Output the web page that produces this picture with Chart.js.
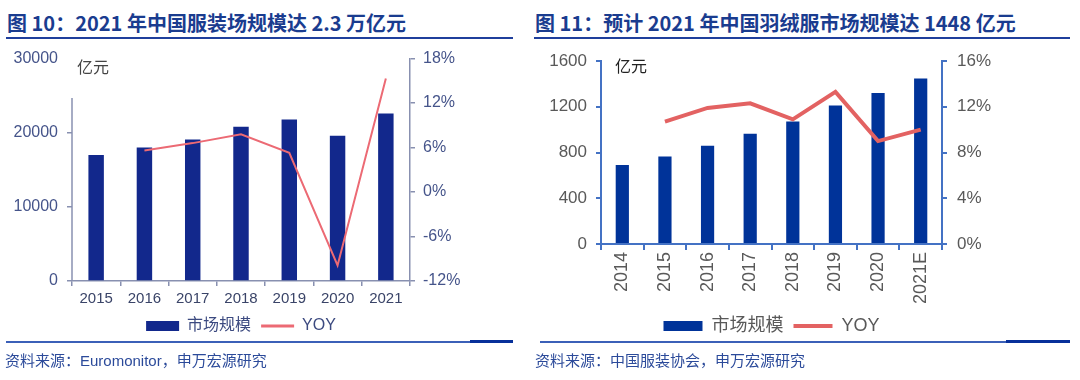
<!DOCTYPE html>
<html>
<head>
<meta charset="utf-8">
<script src="https://cdn.jsdelivr.net/npm/chart.js@4/dist/chart.umd.min.js"></script>
<style>
body { margin: 0; width: 1080px; height: 380px; background: #fff; position: relative; overflow: hidden; font-family: 'Noto Sans CJK SC', sans-serif; }
.title { position: absolute; top: 9px; font-size: 20px; font-weight: 700; color: #1a3c8f; line-height: 28px; white-space: nowrap; }
.uline { position: absolute; top: 37px; height: 2px; background: #1f3f9c; }
.bline { position: absolute; top: 341px; height: 2px; background: #3b60b8; }
.bdark { position: absolute; top: 340px; height: 3px; background: #07309a; }
.src { position: absolute; top: 349px; font-size: 15px; line-height: 22px; color: #2b4a9a; white-space: nowrap; }
.unit { position: absolute; font-size: 16px; line-height: 20px; white-space: nowrap; }
canvas { position: absolute; }
</style>
</head>
<body>
<div class="title" style="left:7px">图 10：2021 年中国服装场规模达 2.3 万亿元</div>
<div class="uline" style="left:6px;width:507px"></div>
<div class="title" style="left:535px">图 11：预计 2021 年中国羽绒服市场规模达 1448 亿元</div>
<div class="uline" style="left:534px;width:536px"></div>

<canvas id="leftChart" width="540" height="310" style="left:0;top:40px"></canvas>
<canvas id="rightChart" width="540" height="310" style="left:540px;top:40px"></canvas>
<div class="unit" style="left:77px;top:56px;color:#444">亿元</div>
<div class="unit" style="left:615px;top:55px;color:#222">亿元</div>

<div class="bline" style="left:6px;width:507px"></div>
<div class="bdark" style="left:470px;width:43px"></div>
<div class="bline" style="left:540px;width:530px"></div>
<div class="bdark" style="left:1006px;width:64px"></div>
<div class="src" style="left:5px"><span style="font-family:'Liberation Sans','Noto Sans CJK SC',sans-serif">资料来源：Euromonitor，申万宏源研究</span></div>
<div class="src" style="left:535px">资料来源：中国服装协会，申万宏源研究</div>

<script>
// 图10 中国服装市场规模
const clothYears = ['2015', '2016', '2017', '2018', '2019', '2020', '2021'];
const clothSize = [17000, 18000, 19100, 20800, 21800, 19600, 22600];
const clothYoy = [null, 5.6, 6.6, 7.8, 5.3, -9.9, 15.3];
const clothSizeTicks = [0, 10000, 20000, 30000];
const clothYoyTicks = [-12, -6, 0, 6, 12, 18];

// 图11 中国羽绒服市场规模
const downYears = ['2014', '2015', '2016', '2017', '2018', '2019', '2020', '2021E'];
const downSize = [690, 765, 860, 965, 1070, 1210, 1320, 1448];
const downYoy = [null, 10.7, 11.9, 12.3, 10.9, 13.3, 9.0, 10.0];
const downSizeTicks = [0, 400, 800, 1200, 1600];
const downYoyTicks = [0, 4, 8, 12, 16];

const FONT = "'Liberation Sans', 'Noto Sans CJK SC', sans-serif";

function setTicks(list) {
  return function (scale) {
    scale.ticks = list.map(v => ({ value: v }));
  };
}
function fixWidth(w) {
  return function (scale) { scale.width = w; };
}
function fixHeight(h) {
  return function (scale) { scale.height = h; };
}
function legendLabels(chart) {
  return chart.data.datasets.map((ds, i) => ({
    text: ds.label,
    datasetIndex: i,
    fillStyle: ds.type === 'line' ? ds.borderColor : ds.backgroundColor,
    strokeStyle: ds.type === 'line' ? ds.borderColor : ds.backgroundColor,
    lineWidth: ds.type === 'line' ? ds.legendLine : 0,
    pointStyle: ds.type === 'line' ? 'line' : 'rect',
    fontColor: chart.options.plugins.legend.labels.color,
    hidden: false
  }));
}

// left axis line of chart 10 only starts part way up
const clothAxisStart = 24700;
const partialAxis = {
  id: 'partialAxis',
  afterDraw(chart) {
    const s = chart.scales.y;
    const ctx = chart.ctx;
    ctx.save();
    ctx.strokeStyle = '#8890b0';
    ctx.lineWidth = 1.5;
    ctx.beginPath();
    ctx.moveTo(s.right, s.getPixelForValue(clothAxisStart));
    ctx.lineTo(s.right, s.bottom);
    ctx.stroke();
    ctx.restore();
  }
};

const clothText = '#45548a';
const clothAxis = '#8890b0';

new Chart(document.getElementById('leftChart').getContext('2d'), {
  type: 'bar',
  data: {
    labels: clothYears,
    datasets: [
      {
        type: 'bar',
        label: '市场规模',
        data: clothSize,
        backgroundColor: '#12288c',
        borderWidth: 0,
        barPercentage: 0.32,
        categoryPercentage: 1,
        yAxisID: 'y',
        order: 1
      },
      {
        type: 'line',
        label: 'YOY',
        data: clothYoy,
        borderColor: '#ec6a74',
        backgroundColor: '#ec6a74',
        borderWidth: 2,
        legendLine: 3,
        pointRadius: 0,
        tension: 0,
        yAxisID: 'y1',
        order: 0
      }
    ]
  },
  options: {
    responsive: false,
    animation: false,
    layout: { padding: { left: 0, right: 0, top: 16, bottom: 6 } },
    plugins: {
      tooltip: { enabled: false },
      legend: {
        position: 'bottom',
        fullSize: false,
        labels: {
          usePointStyle: true,
          pointStyleWidth: 33,
          boxHeight: 10,
          padding: 10,
          color: '#3c4a80',
          font: { family: FONT, size: 16 },
          generateLabels: legendLabels
        }
      }
    },
    scales: {
      x: {
        afterFit: fixHeight(27),
        grid: { drawOnChartArea: false, drawTicks: true, tickLength: 5, color: clothAxis, lineWidth: 1.5 },
        border: { color: clothAxis, width: 1.5 },
        ticks: { color: '#3a4468', font: { family: FONT, size: 15 }, padding: 4, maxRotation: 0 }
      },
      y: {
        position: 'left',
        min: clothSizeTicks[0],
        max: clothSizeTicks[clothSizeTicks.length - 1],
        afterBuildTicks: setTicks(clothSizeTicks),
        afterFit: fixWidth(72),
        grid: {
          drawOnChartArea: false, tickLength: 5, lineWidth: 1.5,
          color: c => (c.tick && c.tick.value > clothAxisStart ? 'rgba(0,0,0,0)' : clothAxis)
        },
        border: { display: false },
        ticks: { color: clothText, font: { family: FONT, size: 16 }, padding: 9, callback: v => String(v) }
      },
      y1: {
        position: 'right',
        min: clothYoyTicks[0],
        max: clothYoyTicks[clothYoyTicks.length - 1],
        afterBuildTicks: setTicks(clothYoyTicks),
        afterFit: fixWidth(130),
        grid: { drawOnChartArea: false, tickLength: 5, color: clothAxis, lineWidth: 1.5 },
        border: { color: clothAxis, width: 1.5 },
        ticks: { color: clothText, font: { family: FONT, size: 16 }, padding: 8, callback: v => v + '%' }
      }
    }
  },
  plugins: [partialAxis]
});

const downAxis = '#4472c4';
const downText = '#595959';

new Chart(document.getElementById('rightChart').getContext('2d'), {
  type: 'bar',
  data: {
    labels: downYears,
    datasets: [
      {
        type: 'bar',
        label: '市场规模',
        data: downSize,
        backgroundColor: '#003399',
        borderWidth: 0,
        barPercentage: 0.31,
        categoryPercentage: 1,
        yAxisID: 'y',
        order: 1
      },
      {
        type: 'line',
        label: 'YOY',
        data: downYoy,
        borderColor: '#e36262',
        backgroundColor: '#e36262',
        borderWidth: 4,
        legendLine: 4,
        pointRadius: 0,
        tension: 0,
        yAxisID: 'y1',
        order: 0
      }
    ]
  },
  options: {
    responsive: false,
    animation: false,
    layout: { padding: { left: 0, right: 0, top: 21, bottom: 5 } },
    plugins: {
      tooltip: { enabled: false },
      legend: {
        position: 'bottom',
        fullSize: false,
        labels: {
          usePointStyle: true,
          pointStyleWidth: 39,
          boxHeight: 10,
          padding: 10,
          color: downText,
          font: { family: FONT, size: 18 },
          generateLabels: legendLabels
        }
      }
    },
    scales: {
      x: {
        afterFit: fixHeight(63),
        grid: { drawOnChartArea: false, drawTicks: true, tickLength: 6, color: downAxis, lineWidth: 2 },
        border: { color: downAxis, width: 2 },
        ticks: { color: downText, font: { family: FONT, size: 18 }, padding: 2, minRotation: 90, maxRotation: 90 }
      },
      y: {
        position: 'left',
        min: downSizeTicks[0],
        max: downSizeTicks[downSizeTicks.length - 1],
        afterBuildTicks: setTicks(downSizeTicks),
        afterFit: fixWidth(61),
        grid: { drawOnChartArea: false, tickLength: 5, color: downAxis, lineWidth: 2 },
        border: { color: downAxis, width: 2 },
        ticks: { color: downText, font: { family: FONT, size: 17 }, padding: 9, callback: v => String(v) }
      },
      y1: {
        position: 'right',
        min: downYoyTicks[0],
        max: downYoyTicks[downYoyTicks.length - 1],
        afterBuildTicks: setTicks(downYoyTicks),
        afterFit: fixWidth(138),
        grid: { drawOnChartArea: false, tickLength: 5, color: downAxis, lineWidth: 2 },
        border: { color: downAxis, width: 2 },
        ticks: { color: downText, font: { family: FONT, size: 17 }, padding: 10, callback: v => v + '%' }
      }
    }
  }
});
</script>
</body>
</html>
